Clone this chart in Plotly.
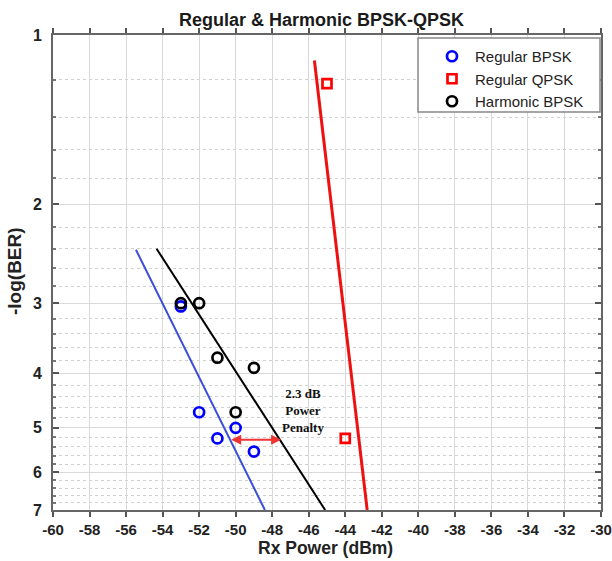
import math
import plotly.graph_objects as go

# ---- data ----
rx_power_bpsk = [-53, -52, -51, -50, -49]
log_ber_bpsk = [3.04, 4.69, 5.22, 5.0, 5.51]

rx_power_qpsk = [-45, -44]
log_ber_qpsk = [1.22, 5.22]

rx_power_harm = [-53, -52, -51, -50, -49]
log_ber_harm = [3.0, 3.0, 3.75, 4.69, 3.91]

fit_bpsk_x = [-55.46, -48.4]
fit_bpsk_y = [2.41, 7.0]
fit_harm_x = [-54.33, -45.1]
fit_harm_y = [2.40, 7.0]
fit_qpsk_x = [-45.69, -42.8]
fit_qpsk_y = [1.11, 7.0]

penalty_x = [-50.33, -47.51]
penalty_y = 5.25
penalty_text_x = -46.33
penalty_text_y = 4.65

x_ticks = list(range(-60, -29, 2))
y_ticks = [1, 2, 3, 4, 5, 6, 7]
y_minor = [round(v / 10, 1) for v in range(12, 70, 2) if v % 10 != 0]

FONT = "Liberation Sans, Arial, sans-serif"

fig = go.Figure()

fig.add_trace(go.Scatter(x=fit_bpsk_x, y=fit_bpsk_y, mode="lines",
                         line=dict(color="#3b4fd6", width=2), showlegend=False, hoverinfo="skip"))
fig.add_trace(go.Scatter(x=fit_harm_x, y=fit_harm_y, mode="lines",
                         line=dict(color="black", width=2), showlegend=False, hoverinfo="skip"))
fig.add_trace(go.Scatter(x=fit_qpsk_x, y=fit_qpsk_y, mode="lines",
                         line=dict(color="#ee1111", width=3), showlegend=False, hoverinfo="skip"))

fig.add_trace(go.Scatter(x=rx_power_bpsk, y=log_ber_bpsk, mode="markers", name="Regular BPSK",
                         marker=dict(symbol="circle-open", size=10, color="#0000ff",
                                     line=dict(width=2.7, color="#0000ff"))))
fig.add_trace(go.Scatter(x=rx_power_qpsk, y=log_ber_qpsk, mode="markers", name="Regular QPSK",
                         marker=dict(symbol="square-open", size=9, color="#ff0000",
                                     line=dict(width=2.7, color="#ff0000"))))
fig.add_trace(go.Scatter(x=rx_power_harm, y=log_ber_harm, mode="markers", name="Harmonic BPSK",
                         marker=dict(symbol="circle-open", size=10, color="black",
                                     line=dict(width=2.7, color="black"))))

L, R, T, B = 53, 11, 35, 51
W, H = 612, 561
pw, ph = W - L - R, H - T - B

def px(xp):
    return (xp - L) / pw

def py(yp):
    return (H - B - yp) / ph

fig.update_layout(
    width=W, height=H, autosize=False,
    margin=dict(l=L, r=R, t=T, b=B, autoexpand=False),
    paper_bgcolor="white", plot_bgcolor="white",
    font=dict(family=FONT, color="#222222"),
    showlegend=True,
    legend=dict(x=px(429), y=py(40), xanchor="left", yanchor="top", itemwidth=36,
                bgcolor="rgba(0,0,0,0)", borderwidth=0,
                font=dict(size=15, family=FONT, color="#222222")),
    xaxis=dict(range=[-60, -30], tickvals=x_ticks, ticktext=[str(v) for v in x_ticks],
               automargin=False, ticklabeloverflow="allow",
               showgrid=True, gridcolor="#d9d9d9", gridwidth=1,
               ticks="outside", ticklen=5, tickcolor="#555555", tickwidth=1.5,
               showline=True, linecolor="#666666", linewidth=2, mirror="ticks",
               zeroline=False,
               tickfont=dict(size=15, family=FONT, color="#222222", weight="bold")),
    yaxis=dict(type="log", range=[math.log10(7), 0], tickvals=y_ticks,
               ticktext=[str(v) for v in y_ticks], automargin=False,
               ticklabeloverflow="allow",
               showgrid=True, gridcolor="#d9d9d9", gridwidth=1,
               ticks="inside", ticklen=6, tickcolor="#555555", tickwidth=1.5,
               showline=True, linecolor="#666666", linewidth=2, mirror="ticks",
               zeroline=False, ticklabelstandoff=6,
               minor=dict(tickvals=y_minor, ticks="inside", ticklen=3, tickcolor="#777777",
                          showgrid=True, gridcolor="#cfcfcf", griddash="dot", gridwidth=1),
               tickfont=dict(size=16, family=FONT, color="#222222", weight="bold")),
    shapes=[dict(type="rect", xref="paper", yref="paper",
                 x0=px(418), x1=px(600), y0=py(112), y1=py(38),
                 fillcolor="white", line=dict(color="#888888", width=1.5), layer="above")],
    annotations=[
        dict(text="Regular & Harmonic BPSK-QPSK", xref="paper", yref="paper",
             x=px(321), y=py(20), xanchor="center", yanchor="middle", showarrow=False,
             font=dict(size=18, family=FONT, color="#1a1a1a", weight="bold")),
        dict(text="Rx Power (dBm)", xref="paper", yref="paper",
             x=px(325.5), y=py(548), xanchor="center", yanchor="middle", showarrow=False,
             font=dict(size=17.5, family=FONT, color="#222222", weight="bold")),
        dict(text="-log(BER)", xref="paper", yref="paper", textangle=-90,
             x=px(14), y=py(271), xanchor="center", yanchor="middle", showarrow=False,
             font=dict(size=19, family=FONT, color="#222222", weight="bold")),
        dict(text="2.3 dB<br>Power<br>Penalty", xref="x", yref="y",
             x=penalty_text_x, y=math.log10(penalty_text_y), showarrow=False,
             xanchor="center", yanchor="middle",
             font=dict(size=13, family="Liberation Serif, Times New Roman, serif",
                       color="#111111", weight="bold")),
        dict(x=penalty_x[1], y=math.log10(penalty_y), ax=penalty_x[0], ay=math.log10(penalty_y),
             xref="x", yref="y", axref="x", ayref="y", text="", showarrow=True,
             arrowhead=2, startarrowhead=2, arrowside="end+start", arrowsize=1,
             arrowwidth=2, arrowcolor="#ee3333"),
    ],
)

fig.write_html("out.html",
               config={"responsive": False, "displayModeBar": False},
               post_script="document.body.style.margin='0';document.body.style.padding='0';"
                           "document.body.style.overflow='hidden';")
